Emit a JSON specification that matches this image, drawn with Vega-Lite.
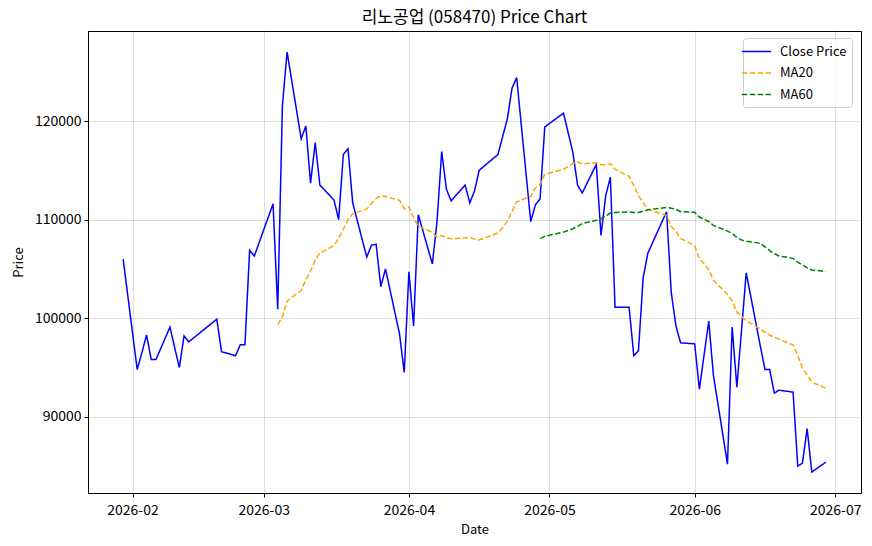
{
  "$schema": "https://vega.github.io/schema/vega-lite/v6.json",
  "width": 773,
  "height": 462,
  "autosize": {"type": "none"},
  "padding": {"left": 88, "top": 31, "right": 11, "bottom": 53},
  "background": "white",
  "config": {
    "font": "Noto Sans CJK KR",
    "view": {"stroke": "black", "strokeWidth": 1},
    "axis": {
      "labelFontSize": 14,
      "titleFontSize": 13,
      "titleFontWeight": "normal",
      "labelColor": "black",
      "titleColor": "black",
      "domainColor": "black",
      "tickColor": "black",
      "tickSize": 4,
      "labelPadding": 3,
      "gridColor": "#b0b0b0",
      "gridOpacity": 0.55,
      "gridWidth": 0.8
    }
  },
  "title": {"text": "리노공업 (058470) Price Chart", "fontSize": 17, "fontWeight": "normal", "color": "black", "offset": 4, "anchor": "middle"},
  "data": {"values": [
    {"date": "2026-01-30", "Close Price": 106000},
    {"date": "2026-02-02", "Close Price": 94800},
    {"date": "2026-02-03", "Close Price": 96500},
    {"date": "2026-02-04", "Close Price": 98300},
    {"date": "2026-02-05", "Close Price": 95800},
    {"date": "2026-02-06", "Close Price": 95800},
    {"date": "2026-02-09", "Close Price": 99100},
    {"date": "2026-02-10", "Close Price": 97000},
    {"date": "2026-02-11", "Close Price": 95000},
    {"date": "2026-02-12", "Close Price": 98200},
    {"date": "2026-02-13", "Close Price": 97600},
    {"date": "2026-02-19", "Close Price": 99900},
    {"date": "2026-02-20", "Close Price": 96600},
    {"date": "2026-02-23", "Close Price": 96200},
    {"date": "2026-02-24", "Close Price": 97300},
    {"date": "2026-02-25", "Close Price": 97300},
    {"date": "2026-02-26", "Close Price": 106900},
    {"date": "2026-02-27", "Close Price": 106300},
    {"date": "2026-03-03", "Close Price": 111600},
    {"date": "2026-03-04", "Close Price": 100900, "MA20": 99355},
    {"date": "2026-03-05", "Close Price": 121600, "MA20": 100135},
    {"date": "2026-03-06", "Close Price": 127000, "MA20": 101745},
    {"date": "2026-03-09", "Close Price": 118200, "MA20": 102830},
    {"date": "2026-03-10", "Close Price": 119500, "MA20": 103890},
    {"date": "2026-03-11", "Close Price": 113700, "MA20": 104785},
    {"date": "2026-03-12", "Close Price": 117800, "MA20": 105885},
    {"date": "2026-03-13", "Close Price": 113500, "MA20": 106605},
    {"date": "2026-03-16", "Close Price": 112000, "MA20": 107355},
    {"date": "2026-03-17", "Close Price": 110000, "MA20": 108105},
    {"date": "2026-03-18", "Close Price": 116600, "MA20": 109025},
    {"date": "2026-03-19", "Close Price": 117200, "MA20": 110005},
    {"date": "2026-03-20", "Close Price": 111700, "MA20": 110595},
    {"date": "2026-03-23", "Close Price": 106200, "MA20": 111075},
    {"date": "2026-03-24", "Close Price": 107400, "MA20": 111635},
    {"date": "2026-03-25", "Close Price": 107500, "MA20": 112145},
    {"date": "2026-03-26", "Close Price": 103200, "MA20": 112440},
    {"date": "2026-03-27", "Close Price": 105000, "MA20": 112345},
    {"date": "2026-03-30", "Close Price": 98400, "MA20": 111950},
    {"date": "2026-03-31", "Close Price": 94500, "MA20": 111095},
    {"date": "2026-04-01", "Close Price": 104700, "MA20": 111285},
    {"date": "2026-04-02", "Close Price": 99200, "MA20": 110165},
    {"date": "2026-04-03", "Close Price": 110500, "MA20": 109340},
    {"date": "2026-04-06", "Close Price": 105500, "MA20": 108705},
    {"date": "2026-04-07", "Close Price": 109800, "MA20": 108220},
    {"date": "2026-04-08", "Close Price": 116900, "MA20": 108380},
    {"date": "2026-04-09", "Close Price": 113100, "MA20": 108145},
    {"date": "2026-04-10", "Close Price": 111900, "MA20": 108065},
    {"date": "2026-04-13", "Close Price": 113500, "MA20": 108140},
    {"date": "2026-04-14", "Close Price": 111700, "MA20": 108225},
    {"date": "2026-04-15", "Close Price": 112900, "MA20": 108040},
    {"date": "2026-04-16", "Close Price": 115000, "MA20": 107930},
    {"date": "2026-04-17", "Close Price": 115400, "MA20": 108115},
    {"date": "2026-04-20", "Close Price": 116600, "MA20": 108635},
    {"date": "2026-04-21", "Close Price": 118400, "MA20": 109185},
    {"date": "2026-04-22", "Close Price": 120200, "MA20": 109820},
    {"date": "2026-04-23", "Close Price": 123300, "MA20": 110825},
    {"date": "2026-04-24", "Close Price": 124400, "MA20": 111795},
    {"date": "2026-04-27", "Close Price": 109800, "MA20": 112365},
    {"date": "2026-04-28", "Close Price": 111500, "MA20": 113215},
    {"date": "2026-04-29", "Close Price": 112100, "MA20": 113585, "MA60": 108075},
    {"date": "2026-04-30", "Close Price": 119400, "MA20": 114595, "MA60": 108298},
    {"date": "2026-05-04", "Close Price": 120800, "MA20": 115110, "MA60": 108732},
    {"date": "2026-05-06", "Close Price": 116800, "MA20": 115675, "MA60": 109070},
    {"date": "2026-05-07", "Close Price": 113500, "MA20": 115860, "MA60": 109323},
    {"date": "2026-05-08", "Close Price": 112700, "MA20": 115650, "MA60": 109605},
    {"date": "2026-05-11", "Close Price": 115600, "MA20": 115775, "MA60": 109935},
    {"date": "2026-05-12", "Close Price": 108400, "MA20": 115600, "MA60": 110090},
    {"date": "2026-05-13", "Close Price": 112400, "MA20": 115545, "MA60": 110347},
    {"date": "2026-05-14", "Close Price": 114300, "MA20": 115675, "MA60": 110668},
    {"date": "2026-05-15", "Close Price": 101100, "MA20": 115085, "MA60": 110717},
    {"date": "2026-05-18", "Close Price": 101100, "MA20": 114390, "MA60": 110775},
    {"date": "2026-05-19", "Close Price": 96200, "MA20": 113430, "MA60": 110713},
    {"date": "2026-05-20", "Close Price": 96700, "MA20": 112435, "MA60": 110715},
    {"date": "2026-05-21", "Close Price": 104100, "MA20": 111720, "MA60": 110847},
    {"date": "2026-05-22", "Close Price": 106600, "MA20": 111040, "MA60": 111002},
    {"date": "2026-05-26", "Close Price": 110800, "MA20": 110415, "MA60": 111227},
    {"date": "2026-05-27", "Close Price": 102600, "MA20": 109325, "MA60": 111155},
    {"date": "2026-05-28", "Close Price": 99200, "MA20": 108795, "MA60": 111037},
    {"date": "2026-05-29", "Close Price": 97500, "MA20": 108095, "MA60": 110802},
    {"date": "2026-06-01", "Close Price": 97400, "MA20": 107360, "MA60": 110743},
    {"date": "2026-06-02", "Close Price": 92800, "MA20": 106030, "MA60": 110263},
    {"date": "2026-06-04", "Close Price": 99700, "MA20": 104975, "MA60": 109808},
    {"date": "2026-06-05", "Close Price": 94200, "MA20": 103845, "MA60": 109408},
    {"date": "2026-06-08", "Close Price": 85200, "MA20": 102430, "MA60": 108837},
    {"date": "2026-06-09", "Close Price": 99100, "MA20": 101750, "MA60": 108593},
    {"date": "2026-06-10", "Close Price": 93000, "MA20": 100620, "MA60": 108180},
    {"date": "2026-06-11", "Close Price": 98800, "MA20": 100140, "MA60": 107935},
    {"date": "2026-06-12", "Close Price": 104600, "MA20": 99750, "MA60": 107812},
    {"date": "2026-06-15", "Close Price": 97200, "MA20": 98895, "MA60": 107598},
    {"date": "2026-06-16", "Close Price": 94800, "MA20": 98580, "MA60": 107235},
    {"date": "2026-06-17", "Close Price": 94800, "MA20": 98265, "MA60": 106862},
    {"date": "2026-06-18", "Close Price": 92400, "MA20": 98075, "MA60": 106540},
    {"date": "2026-06-19", "Close Price": 92700, "MA20": 97875, "MA60": 106315},
    {"date": "2026-06-22", "Close Price": 92500, "MA20": 97295, "MA60": 106067},
    {"date": "2026-06-23", "Close Price": 85000, "MA20": 96215, "MA60": 105692},
    {"date": "2026-06-24", "Close Price": 85300, "MA20": 94940, "MA60": 105393},
    {"date": "2026-06-25", "Close Price": 88800, "MA20": 94250, "MA60": 105123},
    {"date": "2026-06-26", "Close Price": 84400, "MA20": 93510, "MA60": 104890},
    {"date": "2026-06-29", "Close Price": 85400, "MA20": 92905, "MA60": 104738}
  ]},
  "transform": [
    {"fold": ["Close Price", "MA20", "MA60"], "as": ["series", "price"]},
    {"filter": "isValid(datum.price)"}
  ],
  "mark": {"type": "line", "strokeWidth": 1.5},
  "encoding": {
    "x": {
      "field": "date",
      "type": "temporal",
      "title": "Date",
      "scale": {
        "type": "utc",
        "domain": [
          {"year": 2026, "month": 1, "date": 22, "hours": 12, "utc": true},
          {"year": 2026, "month": 7, "date": 6, "hours": 12, "utc": true}
        ]
      },
      "axis": {
        "values": [
          {"year": 2026, "month": 2, "date": 1, "utc": true},
          {"year": 2026, "month": 3, "date": 1, "utc": true},
          {"year": 2026, "month": 4, "date": 1, "utc": true},
          {"year": 2026, "month": 5, "date": 1, "utc": true},
          {"year": 2026, "month": 6, "date": 1, "utc": true},
          {"year": 2026, "month": 7, "date": 1, "utc": true}
        ],
        "format": "%Y-%m",
        "labelPadding": 6,
        "titlePadding": 6
      }
    },
    "y": {
      "field": "price",
      "type": "quantitative",
      "title": "Price",
      "scale": {"domain": [82270, 129130], "zero": false, "nice": false},
      "axis": {"values": [90000, 100000, 110000, 120000], "format": "d", "labelPadding": 3, "titlePadding": 9}
    },
    "color": {
      "field": "series",
      "type": "nominal",
      "scale": {"domain": ["Close Price", "MA20", "MA60"], "range": ["blue", "orange", "green"]},
      "legend": {
        "title": null,
        "orient": "none",
        "legendX": 655,
        "legendY": 7,
        "padding": 5,
        "fillColor": "rgba(255,255,255,0.8)",
        "strokeColor": "#cccccc",
        "cornerRadius": 3,
        "labelFontSize": 13,
        "labelColor": "black",
        "labelOffset": 15,
        "rowPadding": 5.5,
        "symbolType": "M-2,0h4",
        "symbolSize": 215,
        "symbolStrokeWidth": 1.5
      }
    },
    "strokeDash": {
      "field": "series",
      "type": "nominal",
      "scale": {"domain": ["Close Price", "MA20", "MA60"], "range": [[1, 0], [5.5, 2.4], [5.5, 2.4]]},
      "legend": {
        "title": null,
        "orient": "none",
        "legendX": 655,
        "legendY": 7,
        "padding": 5,
        "fillColor": "rgba(255,255,255,0.8)",
        "strokeColor": "#cccccc",
        "cornerRadius": 3,
        "labelFontSize": 13,
        "labelColor": "black",
        "labelOffset": 15,
        "rowPadding": 5.5,
        "symbolType": "M-2,0h4",
        "symbolSize": 215,
        "symbolStrokeWidth": 1.5
      }
    }
  }
}
